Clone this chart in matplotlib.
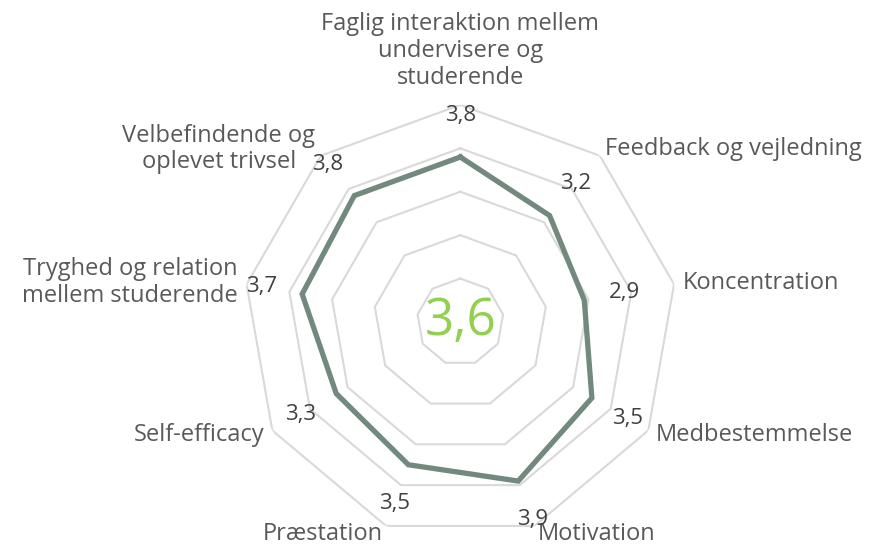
"""
Radar chart of student survey dimensions.
"""
import matplotlib
matplotlib.use('Agg')
import matplotlib.pyplot as plt
import numpy as np

categories = [
    'Faglig interaktion mellem\nundervisere og\nstuderende',
    'Feedback og vejledning',
    'Koncentration',
    'Medbestemmelse',
    'Motivation',
    'Præstation',
    'Self-efficacy',
    'Tryghed og relation\nmellem studerende',
    'Velbefindende og\noplevet trivsel',
]
values = [3.8, 3.2, 2.9, 3.5, 3.9, 3.5, 3.3, 3.7, 3.8]
grid_levels = [1, 2, 3, 4, 5]
overall = 3.6

plt.rcParams['font.family'] = ['Open Sans', 'DejaVu Sans']

fig = plt.figure(figsize=(8.7, 5.46), dpi=100)
ax = fig.add_axes([0.2796, 0.0128, 0.499, 0.795], projection='polar')
ax.set_theta_zero_location('N')
ax.set_theta_direction(-1)
ax.set_ylim(0, 5)
ax.axis('off')

n = len(categories)
angles = np.linspace(0, 2 * np.pi, n, endpoint=False)
closed = np.append(angles, angles[0])

# polygon grid
for lvl in grid_levels:
    ax.plot(closed, [lvl] * (n + 1), color='#d9d9d9', lw=1.5, zorder=1)

# data series
ax.plot(closed, values + values[:1], color='#728a7e', lw=3.8,
        solid_joinstyle='miter', zorder=3)

# value labels
for a, v in zip(angles, values):
    ax.text(a, v + 0.95, f'{v:.1f}'.replace('.', ','), ha='center', va='center',
            fontsize=16, color='#404040', zorder=4)

# category labels
for a, lab in zip(angles, categories):
    s = np.sin(a)
    if s > 0.1:
        ha = 'left'
    elif s < -0.1:
        ha = 'right'
    else:
        ha = 'center'
    va = 'bottom' if abs(s) <= 0.1 and np.cos(a) > 0 else 'center'
    r = 5.35 if va == 'bottom' else 5.2
    ax.text(a, r, lab, ha=ha, va=va, multialignment='center',
            fontsize=17, color='#595959', linespacing=1.15)

ax.text(0, 0, f'{overall:.1f}'.replace('.', ','), ha='center', va='center',
        fontsize=37, color='#92d050', zorder=5)

fig.savefig('out.png', dpi=100)
